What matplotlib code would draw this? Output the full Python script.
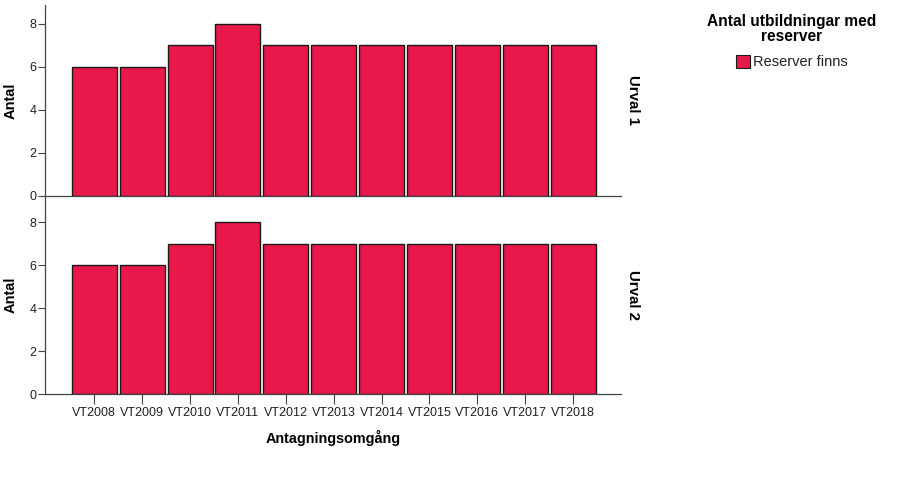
import matplotlib
matplotlib.use("Agg")
import matplotlib.pyplot as plt
from matplotlib.patches import Rectangle

categories = ["VT2008", "VT2009", "VT2010", "VT2011", "VT2012", "VT2013",
              "VT2014", "VT2015", "VT2016", "VT2017", "VT2018"]
urval1 = [6, 6, 7, 8, 7, 7, 7, 7, 7, 7, 7]
urval2 = [6, 6, 7, 8, 7, 7, 7, 7, 7, 7, 7]
panel_labels = ["Urval 1", "Urval 2"]
yticks = [0, 2, 4, 6, 8]
legend_title = "Antal utbildningar med\nreserver"
legend_label = "Reserver finns"

plt.rcParams['font.family'] = ['Liberation Sans', 'DejaVu Sans']

W, H = 914, 501
fig = plt.figure(figsize=(W / 100, H / 100), dpi=100)

bar_color = "#E8194A"
line_color = "#444444"

def px_axes(x0, y0, x1, y1):
    return fig.add_axes([x0 / W, 1 - y1 / H, (x1 - x0) / W, (y1 - y0) / H])

ax2 = px_axes(45, 195.7, 621, 394.3)
ax1 = px_axes(45, 5, 621, 195.7)

x = list(range(len(categories)))
for ax, vals, lab, ytop in [(ax1, urval1, panel_labels[0], 8.88),
                            (ax2, urval2, panel_labels[1], 9.24)]:
    ax.patch.set_visible(False)
    ax.bar(x, vals, width=0.94, color=bar_color, edgecolor="#1a1a1a",
           linewidth=1.0, zorder=2)
    ax.set_xlim(-1.03, 11.0)
    ax.set_ylim(0, ytop)
    ax.set_yticks(yticks)
    ax.set_yticklabels([str(t) for t in yticks], fontsize=9, color="#222222")
    ax.tick_params(axis='y', length=5, width=0.8, color=line_color, pad=1)
    for s in ["top", "right"]:
        ax.spines[s].set_visible(False)
    ax.spines["left"].set_color(line_color)
    ax.spines["bottom"].set_color(line_color)
    ax.spines["left"].set_linewidth(0.9)
    ax.spines["bottom"].set_linewidth(0.9)
    ax.set_ylabel("Antal", fontsize=10.5, fontweight="bold")
    ax.yaxis.set_label_coords(-0.047, 0.5)
    ax.text(1.02, 0.5, lab, transform=ax.transAxes, rotation=-90,
            fontsize=10.8, fontweight="bold", ha="center", va="center")

ax1.set_xticks([])
ax2.set_xticks(x)
ax2.set_xticklabels(categories, fontsize=9, color="#222222")
ax2.tick_params(axis='x', length=7, width=0.8, color=line_color, pad=2)
ax2.set_xlabel("Antagningsomgång", fontsize=10.4, fontweight="bold", labelpad=8)

# legend
fig.text(792 / W, 1 - 29 / H, legend_title, fontsize=11.2, fontweight="bold",
         ha="center", va="center", linespacing=0.95)
fig.patches.append(Rectangle((736 / W, 1 - 68 / H), 14 / W, 13 / H,
                             transform=fig.transFigure, facecolor=bar_color,
                             edgecolor="#1a1a1a", linewidth=0.8))
fig.text(753 / W, 1 - 62 / H, legend_label, fontsize=10.5, ha="left",
         va="center", color="#222222")

fig.savefig("out.png", dpi=100)
